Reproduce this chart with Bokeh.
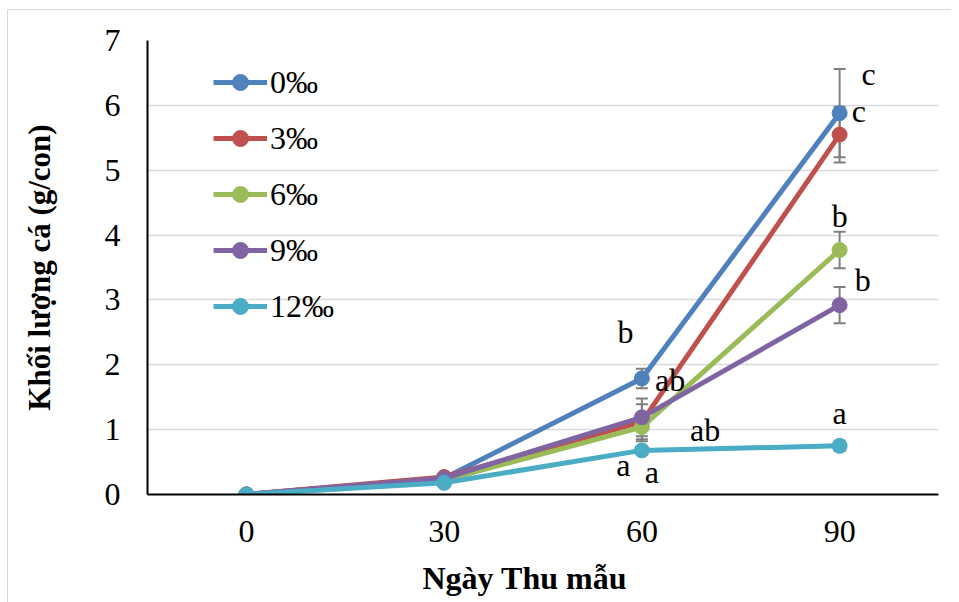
import math
from bokeh.plotting import figure
from bokeh.models import ColumnDataSource, Whisker, TeeHead, Legend, LegendItem, Title, FixedTicker
from bokeh.core.properties import value
from bokeh.embed import file_html
from bokeh.resources import INLINE

days = [0, 30, 60, 90]
series_names = ["0‰", "3‰", "6‰", "9‰", "12‰"]
w0 = [0, 0.25, 1.79, 5.88]
w3 = [0, 0.27, 1.12, 5.55]
w6 = [0, 0.22, 1.04, 3.77]
w9 = [0, 0.25, 1.19, 2.92]
w12 = [0, 0.18, 0.68, 0.75]
e0 = [0, 0.02, 0.15, 0.68]
e3 = [0, 0.02, 0.27, 0.43]
e6 = [0, 0.02, 0.22, 0.28]
e9 = [0, 0.02, 0.29, 0.28]
e12 = [0, 0.02, 0.05, 0.08]
colors = ["#4F81BD", "#C0504D", "#9BBB59", "#8064A2", "#4BACC6"]

letter_text = ["c", "c", "b", "b", "a", "b", "ab", "ab", "a", "a"]
letter_x = [94.4, 92.9, 90.0, 93.5, 90.0, 57.5, 64.3, 69.6, 57.2, 61.5]
letter_y = [6.49, 5.92, 4.30, 3.31, 1.26, 2.51, 1.76, 0.99, 0.45, 0.34]

x_title = "Ngày Thu mẫu"
y_title = "Khối lượng cá (g/con)"

FONT = "Liberation Serif"

p = figure(frame_width=791, frame_height=454, min_border_left=139, min_border_right=13,
           min_border_top=30, min_border_bottom=100,
           x_range=(-15, 105), y_range=(0, 7),
           output_backend="svg", toolbar_location=None)
p.styles = {"margin-left": "7px", "margin-top": "9px",
            "border-left": "1px solid #d9d9d9", "border-top": "1px solid #d9d9d9"}
p.outline_line_color = None
p.background_fill_color = "white"
p.border_fill_color = "white"

p.xgrid.grid_line_color = None
p.ygrid.grid_line_color = "#d9d9d9"
p.ygrid.grid_line_width = 1.5
p.ygrid.ticker = FixedTicker(ticks=[1, 2, 3, 4, 5, 6, 7])

p.xaxis.ticker = FixedTicker(ticks=days)
p.yaxis.ticker = FixedTicker(ticks=[0, 1, 2, 3, 4, 5, 6, 7])
for ax in (p.xaxis[0], p.yaxis[0]):
    ax.major_tick_line_color = None
    ax.minor_tick_line_color = None
    ax.axis_line_color = "black"
    ax.axis_line_width = 2
    ax.major_label_text_font = FONT
    ax.major_label_text_font_size = "32px"
    ax.major_label_text_color = "black"
p.xaxis.major_label_standoff = 20
p.yaxis.major_label_standoff = 21

p.yaxis.axis_label = y_title
p.yaxis.axis_label_text_font = FONT
p.yaxis.axis_label_text_font_size = "31px"
p.yaxis.axis_label_text_font_style = "bold"
p.yaxis.axis_label_text_color = "black"
p.yaxis.axis_label_standoff = 45

all_w = [w0, w3, w6, w9, w12]
all_e = [e0, e3, e6, e9, e12]

for w, e, c in zip(all_w, all_e, colors):
    src = ColumnDataSource(dict(x=days, lo=[a - b for a, b in zip(w, e)], hi=[a + b for a, b in zip(w, e)]))
    wh = Whisker(source=src, base="x", lower="lo", upper="hi", line_color="#7f7f7f", line_width=2,
                 upper_head=TeeHead(size=12, line_color="#7f7f7f", line_width=2),
                 lower_head=TeeHead(size=12, line_color="#7f7f7f", line_width=2), level="underlay")
    p.add_layout(wh)

items = []
for name, w, c in zip(series_names, all_w, colors):
    src = ColumnDataSource(dict(x=days, y=w))
    ln = p.line("x", "y", source=src, line_color=c, line_width=5)
    sc = p.scatter("x", "y", source=src, size=15, fill_color=c, line_color=c)
    items.append(LegendItem(label=name, renderers=[ln, sc]))

lsrc = ColumnDataSource(dict(x=letter_x, y=letter_y, t=letter_text))
p.text("x", "y", text="t", source=lsrc, text_font=value(FONT), text_font_size="32px",
       text_align="center", text_baseline="middle", text_color="black")

legend = Legend(items=items, location=(66, 168), orientation="vertical",
                label_text_font=FONT, label_text_font_size="32px", label_text_color="black",
                glyph_width=54, glyph_height=40, label_height=40, spacing=16, padding=0, margin=0,
                label_standoff=3, border_line_color=None, background_fill_alpha=0)
p.add_layout(legend)

p.add_layout(Title(text=x_title, text_font=FONT, text_font_size="32px", text_font_style="bold",
                   align="left", offset=275, standoff=26, text_color="black"), "below")

open("out.html", "w").write(file_html(p, INLINE))
